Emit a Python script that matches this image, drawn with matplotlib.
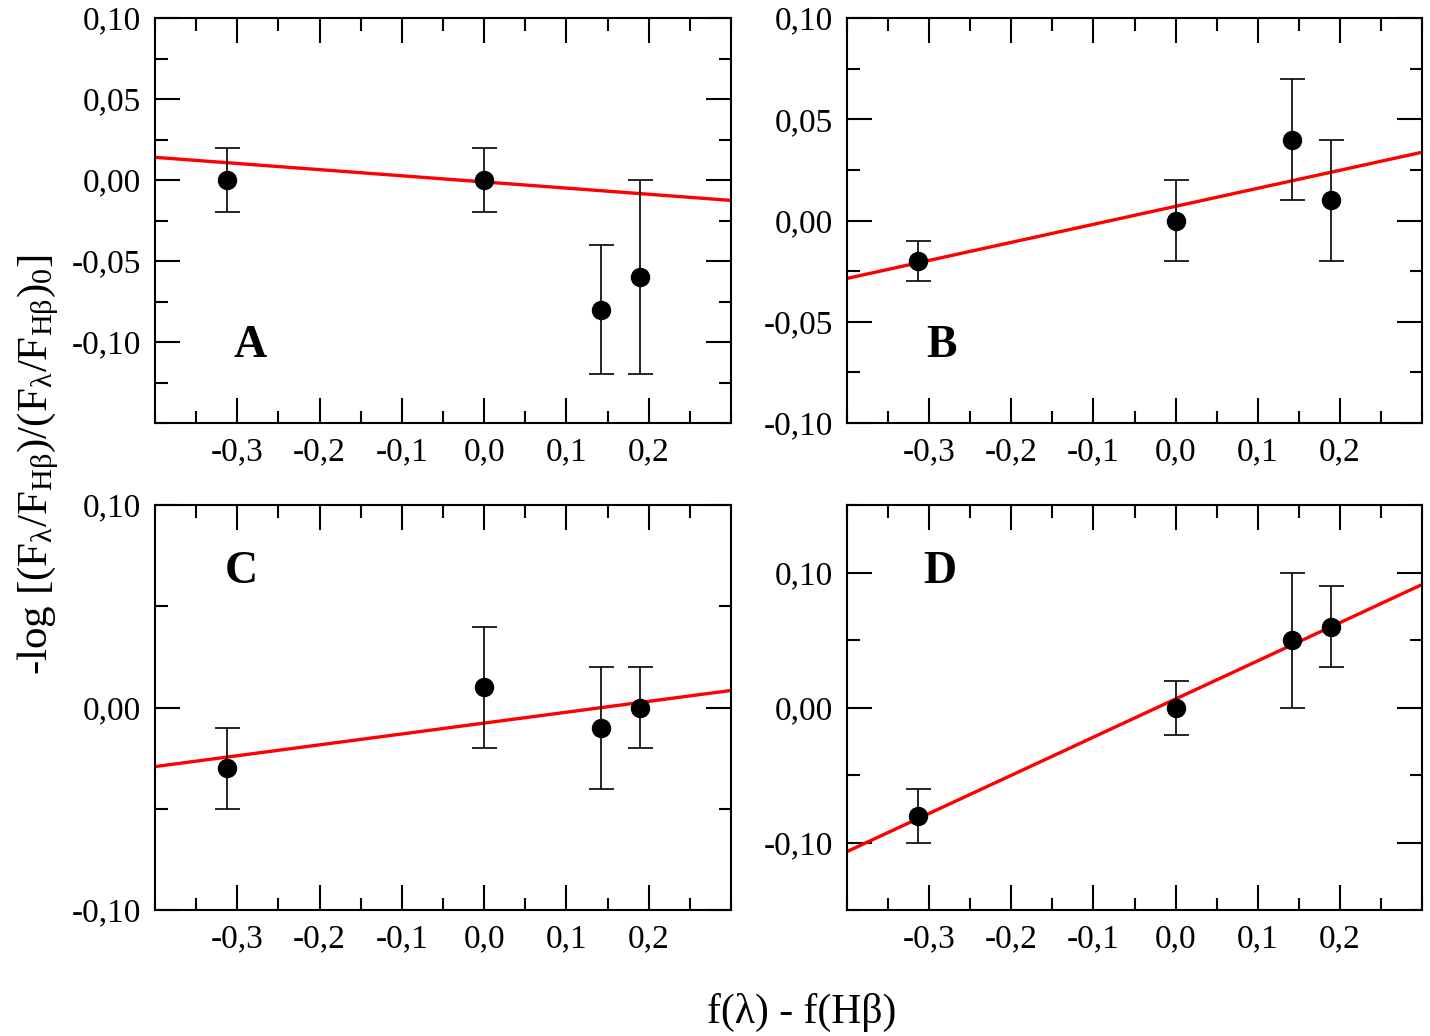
import numpy as np
import matplotlib
matplotlib.use("Agg")
import matplotlib.pyplot as plt
from matplotlib.ticker import MultipleLocator, FuncFormatter

plt.rcParams['font.family'] = ['Liberation Serif', 'DejaVu Serif']
plt.rcParams['mathtext.fontset'] = 'custom'
plt.rcParams['mathtext.rm'] = 'Liberation Serif'
plt.rcParams['mathtext.it'] = 'Liberation Serif:italic'
plt.rcParams['mathtext.bf'] = 'Liberation Serif:bold'

# f(lambda) - f(Hbeta) of the four lines
x_pts = [-0.313, 0.0, 0.142, 0.189]

# panel data
y_A = [0.0, 0.0, -0.08, -0.06]
e_A = [0.02, 0.02, 0.04, 0.06]
y_B = [-0.02, 0.0, 0.04, 0.01]
e_B = [0.01, 0.02, 0.03, 0.03]
y_C = [-0.03, 0.01, -0.01, 0.0]
e_C = [0.02, 0.03, 0.03, 0.02]
y_D = [-0.08, 0.0, 0.05, 0.06]
e_D = [0.02, 0.02, 0.05, 0.03]

# fitted lines: slope, intercept
fit_A = (-0.038, -0.0012)
fit_B = (0.089, 0.0070)
fit_C = (0.0537, -0.0077)
fit_D = (0.2826, 0.0063)

x_ticks = [-0.3, -0.2, -0.1, 0.0, 0.1, 0.2]
yt_AB = [-0.10, -0.05, 0.0, 0.05, 0.10]
yt_CD = [-0.10, 0.0, 0.10]

panels = [
    ("A", y_A, e_A, fit_A, (-0.15, 0.10), yt_AB, 0.025, (0.165, 0.19)),
    ("B", y_B, e_B, fit_B, (-0.10, 0.10), yt_AB, 0.025, (0.165, 0.19)),
    ("C", y_C, e_C, fit_C, (-0.10, 0.10), yt_CD, 0.05, (0.15, 0.835)),
    ("D", y_D, e_D, fit_D, (-0.15, 0.15), yt_CD, 0.05, (0.162, 0.835)),
]

W, H = 1430, 1036
fig = plt.figure(figsize=(W / 100, H / 100), dpi=100)
boxes = [(155, 18, 731, 423), (847, 18, 1422, 423),
         (155, 505, 731, 910), (847, 505, 1422, 910)]

comma = lambda fmt: FuncFormatter(lambda v, p: (fmt % v).replace('.', ','))

for (l, t, r, b), (name, ys, es, fit, ylim, yticks, ymin, lpos) in zip(boxes, panels):
    ax = fig.add_axes([l / W, 1 - b / H, (r - l) / W, (b - t) / H])
    xx = np.array([-0.4, 0.3])
    ax.plot(xx, fit[0] * xx + fit[1], color='red', lw=2.4, zorder=2)
    ax.errorbar(x_pts, ys, yerr=es, fmt='o', color='black', ms=13,
                elinewidth=1.2, capsize=9, capthick=1.2, zorder=3)
    ax.set_xticks(x_ticks)
    ax.set_yticks(yticks)
    ax.xaxis.set_minor_locator(MultipleLocator(0.05))
    ax.yaxis.set_minor_locator(MultipleLocator(ymin))
    ax.set_xlim(-0.4, 0.3)
    ax.set_ylim(*ylim)
    ax.xaxis.set_major_formatter(comma('%.1f'))
    ax.yaxis.set_major_formatter(comma('%.2f'))
    ax.tick_params(which='both', direction='in', top=True, right=True,
                   labelsize=24, width=1.5)
    ax.tick_params(which='major', length=18, pad=10)
    ax.tick_params(which='minor', length=9)
    for s in ax.spines.values():
        s.set_linewidth(1.5)
    ax.text(lpos[0], lpos[1], name, transform=ax.transAxes, fontsize=33,
            fontweight='bold', ha='center', va='center')

fig.text(0.027, 1 - 465 / H,
         r'-log [(F$_{\mathrm{\lambda}}$/F$_{\mathrm{H\beta}}$)/(F$_{\mathrm{\lambda}}$/F$_{\mathrm{H\beta}}$)$_{\mathrm{0}}$]',
         rotation=90, fontsize=31, ha='center', va='center')
fig.text(802 / W, 1 - 1012 / H, 'f(λ) - f(Hβ)', fontsize=30,
         ha='center', va='center')

fig.savefig("out.png", dpi=100)
